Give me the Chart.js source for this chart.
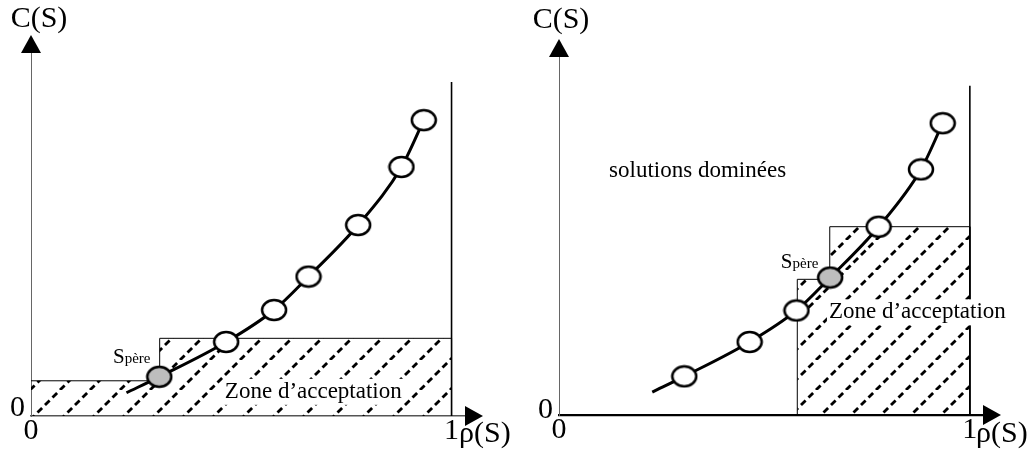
<!DOCTYPE html>
<html><head><meta charset="utf-8">
<script src="https://cdn.jsdelivr.net/npm/chart.js@4.4.0/dist/chart.umd.min.js"></script>
<style>
html,body{margin:0;padding:0;background:#fff;}
#wrap{position:relative;width:1032px;height:459px;overflow:hidden;}
.panel{position:absolute;top:0;width:516px;height:459px;}
canvas{display:block;}
</style></head><body>
<div id="wrap">
<div class="panel" style="left:0"><canvas id="c1" width="516" height="459"></canvas></div>
<div class="panel" style="left:516px"><canvas id="c2" width="516" height="459"></canvas></div>
</div>
<script>
// ---- data ----
const curveX = [0.227, 0.305, 0.464, 0.578, 0.660, 0.778, 0.881, 0.934];
const curveY = [0.064, 0.108, 0.204, 0.292, 0.384, 0.526, 0.686, 0.815];
const leftParentIndex = 1;
const rightParentIndex = 4;
const leftZoneX = [0, 0.306, 0.306, 1, 1];
const leftZoneY = [0.097, 0.097, 0.214, 0.214, 0];
const rightZoneX = [0.580, 0.580, 0.659, 0.659, 1, 1];
const rightZoneY = [0, 0.379, 0.379, 0.526, 0.526, 0];
const boundX = [1, 1];
const boundY = [0, 0.92];
const xTickValues = [0, 1];
const yTickValues = [0];
const xAxisLabel = 'ρ(S)';
const yAxisLabel = 'C(S)';
const zoneLabel = 'Zone d’acceptation';
const dominatedLabel = 'solutions dominées';
const parentMain = 'S';
const parentSub = 'père';

const SERIF = "'Liberation Serif', 'Times New Roman', serif";

function makeHatch() {
  const s = 30;
  const c = document.createElement('canvas'); c.width = s; c.height = s;
  const g = c.getContext('2d');
  g.strokeStyle = '#000'; g.lineWidth = 2.8; g.lineCap = 'butt';
  g.setLineDash([6.5, Math.SQRT2 * s / 4 - 6.5]);
  for (const k of [0, 1, 2]) {
    g.beginPath(); g.moveTo(k * s - s, s); g.lineTo(k * s, 0); g.stroke();
  }
  return c;
}
function makeMarker(fill) {
  const w = 28, h = 24;
  const c = document.createElement('canvas'); c.width = w; c.height = h;
  const g = c.getContext('2d');
  g.beginPath(); g.ellipse(w / 2, h / 2, 12, 10, 0, 0, Math.PI * 2);
  g.fillStyle = fill; g.fill(); g.lineWidth = 2.5; g.strokeStyle = '#000'; g.stroke();
  return c;
}
const whiteMarker = makeMarker('#ffffff');
const grayMarker = makeMarker('#bdbdbd');

const decoPlugin = {
  id: 'deco',
  afterDatasetsDraw(chart, args, o) {
    const { ctx, chartArea: a, scales: { x, y } } = chart;
    ctx.save();
    ctx.fillStyle = '#000';
    // axis arrowheads
    ctx.beginPath(); ctx.moveTo(a.left, a.top - 18); ctx.lineTo(a.left - 10, a.top); ctx.lineTo(a.left + 10, a.top); ctx.closePath(); ctx.fill();
    ctx.beginPath(); ctx.moveTo(a.right + 18, a.bottom); ctx.lineTo(a.right, a.bottom - 10); ctx.lineTo(a.right, a.bottom + 10); ctx.closePath(); ctx.fill();
    ctx.textBaseline = 'alphabetic';
    // axis titles
    ctx.font = '30px ' + SERIF; ctx.textAlign = 'center';
    ctx.fillText(yAxisLabel, a.left + o.yTitle[0], a.top + o.yTitle[1]);
    ctx.textAlign = 'left';
    ctx.fillText(xAxisLabel, a.right + o.xTitle[0], a.bottom + o.xTitle[1]);
    // zone label with white box
    ctx.font = '23px ' + SERIF;
    const zx = x.getPixelForValue(o.zone[0]), zy = y.getPixelForValue(o.zone[1]);
    const zw = ctx.measureText(zoneLabel).width;
    ctx.fillStyle = '#fff'; ctx.fillRect(zx - 2, zy - 19, zw + 4, 26);
    ctx.fillStyle = '#000'; ctx.fillText(zoneLabel, zx, zy);
    if (o.dominated) {
      ctx.fillText(dominatedLabel, x.getPixelForValue(o.dominated[0]), y.getPixelForValue(o.dominated[1]));
    }
    // parent label
    const px = x.getPixelForValue(o.parent[0]), py = y.getPixelForValue(o.parent[1]);
    ctx.font = '21px ' + SERIF; ctx.fillText(parentMain, px, py);
    const sw = ctx.measureText(parentMain).width;
    ctx.font = '15px ' + SERIF; ctx.fillText(parentSub, px + sw, py);
    ctx.restore();
  }
};

function buildChart(id, cfg) {
  const ctx = document.getElementById(id).getContext('2d');
  const hatch = ctx.createPattern(makeHatch(), 'repeat');
  const curve = curveX.map((v, i) => ({ x: v, y: curveY[i] }));
  const styles = curveX.map((_, i) => i === 0 ? 'circle' : (i === cfg.parentIndex ? grayMarker : whiteMarker));
  const radii = curveX.map((_, i) => i === 0 ? 0 : 12);
  const zone = cfg.zoneX.map((v, i) => ({ x: v, y: cfg.zoneY[i] }));
  const bound = boundX.map((v, i) => ({ x: v, y: boundY[i] }));
  return new Chart(ctx, {
    type: 'scatter',
    data: {
      datasets: [
        { label: 'solutions', data: curve, showLine: true, borderColor: '#000', borderWidth: 3,
          cubicInterpolationMode: 'monotone', pointStyle: styles, pointRadius: radii, pointHoverRadius: radii,
          backgroundColor: '#fff', fill: false, clip: false },
        { label: 'zone', data: zone, showLine: true, borderColor: '#000', borderWidth: 1, tension: 0,
          pointRadius: 0, fill: 'origin', backgroundColor: hatch, clip: false },
        { label: 'borne', data: bound, showLine: true, borderColor: '#000', borderWidth: 1.6,
          pointRadius: 0, fill: false, clip: false }
      ]
    },
    options: {
      responsive: false, animation: false, devicePixelRatio: 1,
      layout: { padding: cfg.padding },
      plugins: { legend: { display: false }, tooltip: { enabled: false }, deco: cfg.deco },
      events: [],
      scales: {
        x: {
          type: 'linear', min: 0, max: 1.032,
          afterBuildTicks: s => { s.ticks = xTickValues.map(v => ({ value: v })); },
          afterFit: s => { s.height = cfg.xAxisHeight; },
          grid: { display: false, drawTicks: false },
          border: { display: true, color: cfg.xBorderColor, width: cfg.xBorderWidth },
          ticks: { color: '#000', padding: 0, maxRotation: 0, autoSkip: false,
            font: { family: SERIF, size: 30, lineHeight: 1 } }
        },
        y: {
          type: 'linear', min: 0, max: 1,
          afterBuildTicks: s => { s.ticks = yTickValues.map(v => ({ value: v })); },
          afterFit: s => { s.width = cfg.yAxisWidth; },
          grid: { display: false, drawTicks: false },
          border: { display: true, color: '#666', width: 1 },
          ticks: { color: '#000', padding: 6, labelOffset: cfg.yLabelOffset,
            font: { family: SERIF, size: 30, lineHeight: 1 } }
        }
      }
    },
    plugins: [decoPlugin]
  });
}

buildChart('c1', {
  parentIndex: leftParentIndex, zoneX: leftZoneX, zoneY: leftZoneY,
  padding: { left: 0, top: 53, right: 51, bottom: 0 },
  xAxisHeight: 43, yAxisWidth: 31, yLabelOffset: -8,
  xBorderColor: '#555', xBorderWidth: 1.5,
  deco: { yTitle: [8, -26], xTitle: [-6, 26], zone: [0.461, 0.050], parent: [0.195, 0.146] }
});
buildChart('c2', {
  parentIndex: rightParentIndex, zoneX: rightZoneX, zoneY: rightZoneY,
  padding: { left: 0, top: 57, right: 49, bottom: 0 },
  xAxisHeight: 44, yAxisWidth: 43, yLabelOffset: -5,
  xBorderColor: '#000', xBorderWidth: 2.2,
  deco: { yTitle: [2, -29], xTitle: [-7, 27], zone: [0.657, 0.270], dominated: [0.122, 0.666], parent: [0.540, 0.411] }
});
</script>
</body></html>
